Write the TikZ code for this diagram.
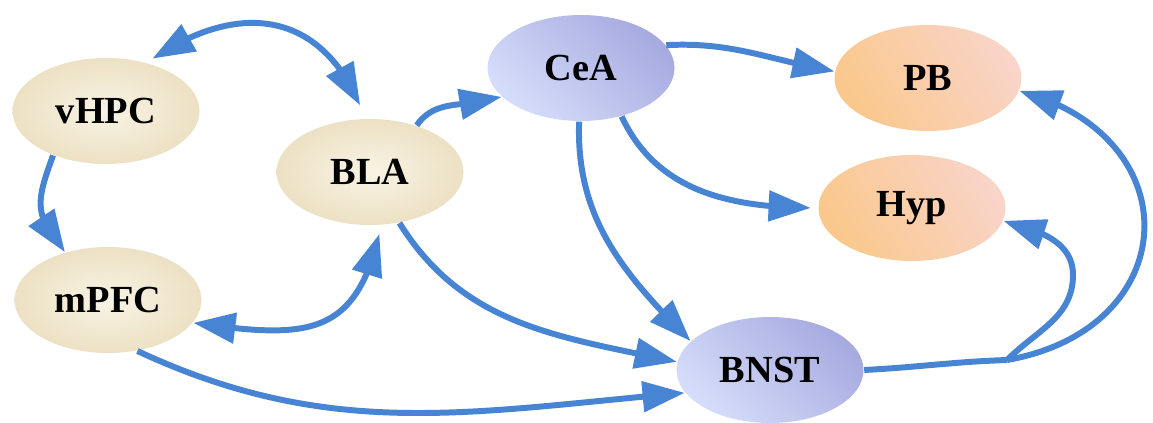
\documentclass[tikz,border=0pt]{standalone}
\usepackage{fontspec}
\setmainfont{Liberation Serif}
\usetikzlibrary{arrows.meta,bending,shapes.geometric,positioning}

\definecolor{linkblue}{RGB}{72,132,212}
\definecolor{beigeL}{RGB}{248,243,228}
\definecolor{beigeD}{RGB}{236,225,196}
\definecolor{blueL}{RGB}{214,221,250}
\definecolor{blueD}{RGB}{166,170,224}
\definecolor{orangeL}{RGB}{250,200,140}
\definecolor{salmon}{RGB}{244,160,120}
\definecolor{pinkL}{RGB}{249,212,200}

\begin{document}
\begin{tikzpicture}[thick, >={Triangle[length=24pt,width=17pt]},
    region/.style={ellipse, inner sep=0pt, minimum width=3.74cm, minimum height=2.12cm,
      font=\fontsize{21.8}{24}\selectfont\bfseries},
    cortex/.style={region, inner color=beigeL, outer color=beigeD},
    amyg/.style={region, left color=blueL, right color=blueD, shading angle=135},
    target/.style={region, left color=orangeL, middle color=salmon, right color=pinkL, shading angle=120},
    link/.style={draw=linkblue, line width=3.4pt}]
  \useasboundingbox (0,0) rectangle (23.06,-8.46);

  \node[cortex] (vHPC) at (2.12,-2.22) {vHPC};
  \node[cortex] (mPFC) at (2.16,-6.00) {mPFC};
  \node[cortex] (BLA) at (7.40,-3.44) {BLA};
  \node[amyg] (CeA) at (11.62,-1.36) {CeA};
  \node[amyg] (BNST) at (15.40,-7.40) {BNST};
  \node[target] (PB) at (18.56,-1.56) {PB};
  \node[target] (Hyp) at (18.24,-4.16) {Hyp};
  \coordinate (split) at (20.14,-7.20);
  \coordinate (hypbend) at (21.46,-5.50);

  \draw[link, <->, shorten <=4pt, shorten >=8pt] (vHPC.50) to[out=35, in=110, looseness=1.3] (BLA.95);
  \draw[link, ->] (vHPC.220) to[out=250, in=130, looseness=1.3] (mPFC.132);
  \draw[link, <->, shorten >=5pt] (mPFC.345) to[out=-8, in=258, looseness=1.4] (BLA.282);
  \draw[link, ->] (BLA.45) to[out=55, in=200] (CeA.200);
  \draw[link, ->] (BLA.300) to[out=-58, in=168] (BNST.175);
  \draw[link, ->] (mPFC.300) to[out=-25, in=185] (BNST.195);
  \draw[link, ->] (CeA.15) to[out=3, in=170] (PB.176);
  \draw[link, ->, shorten >=4pt] (CeA.310) to[out=-65, in=180] (Hyp.west);
  \draw[link, ->] (CeA.268) to[out=268, in=135] (BNST.160);
  \draw[link] (BNST.east) to[out=3, in=182] (split);
  \draw[link, ->] (split) to[out=45, in=270] (hypbend) to[out=90, in=-15] (Hyp.-8);
  \draw[link, ->] (split) to[out=10, in=-15, looseness=1.7] (PB.-8);
\end{tikzpicture}
\end{document}
